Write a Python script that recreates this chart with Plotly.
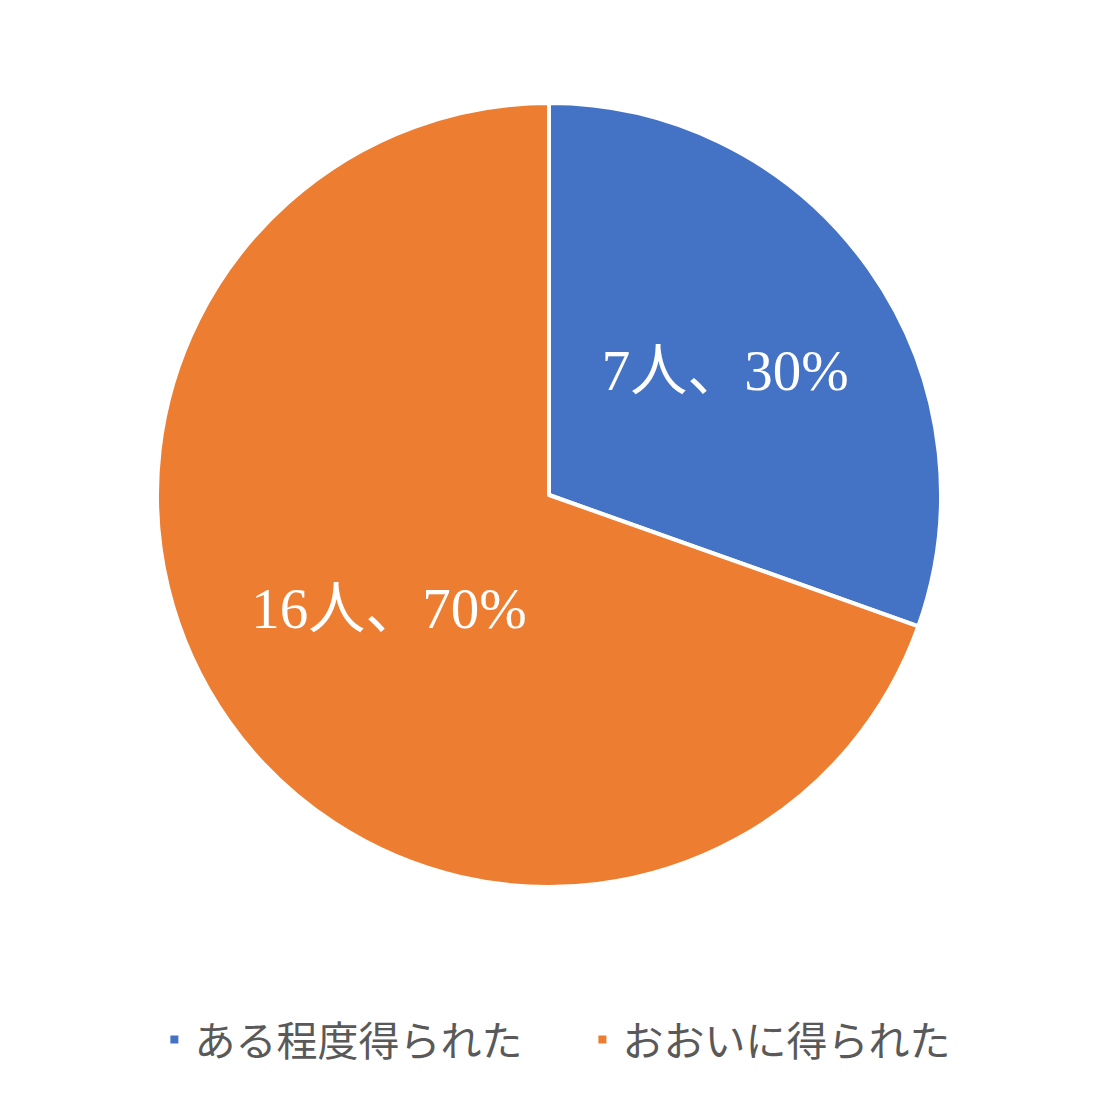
import plotly.graph_objects as go

# data
labels = ["ある程度得られた", "おおいに得られた"]
counts = [7, 16]
colors = ["#4472C4", "#ED7D31"]

fig = go.Figure()
fig.add_trace(go.Pie(
  labels=labels,
  values=counts,
  sort=False,
  direction="clockwise",
  rotation=0,
  marker=dict(colors=colors, line=dict(color="white", width=4)),
  texttemplate="%{value}人、%{percent:.0%}",
  textposition="inside",
  insidetextorientation="horizontal",
  textfont=dict(family="Liberation Serif, Noto Sans CJK JP", size=57, color="white"),
  hoverinfo="label+value+percent",
))

# page body has an 8px margin, so margins are shifted by that
# wide plot area (pie size is limited by height) so the legend fits on one row
fig.update_layout(
  width=1097, height=1097,
  margin=dict(l=50, r=65, t=95, b=218, autoexpand=False),
  paper_bgcolor="white",
  plot_bgcolor="white",
  showlegend=True,
  legend=dict(
    orientation="h",
    x=0.534, xanchor="center",
    y=-0.195, yanchor="middle",
    font=dict(family="Noto Sans CJK JP", size=41, color="#595959"),
    entrywidth=383, entrywidthmode="pixels",
  ),
)

fig.write_html("out.html")
